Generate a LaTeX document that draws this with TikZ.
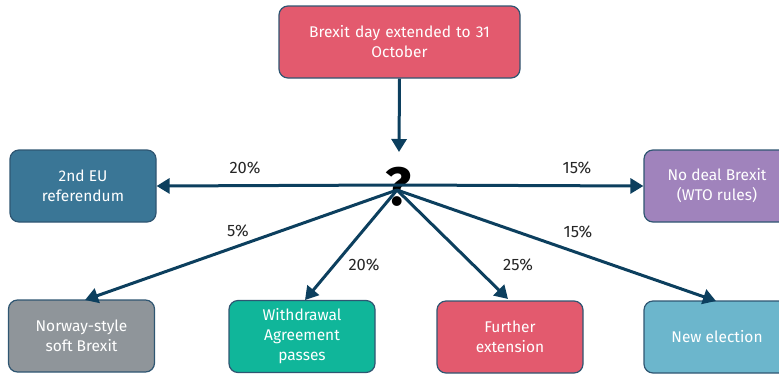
\documentclass[tikz,border=0pt]{standalone}
\usepackage{fontspec}
\setmainfont{Fira Sans}
\usetikzlibrary{arrows.meta}
\definecolor{linec}{HTML}{0C3F5E}
\definecolor{edgec}{HTML}{2F5672}
\definecolor{pinkc}{HTML}{E35A6E}
\definecolor{bluec}{HTML}{3A7696}
\definecolor{purplec}{HTML}{A083BC}
\definecolor{grayc}{HTML}{8F959A}
\definecolor{tealc}{HTML}{10B69A}
\definecolor{lbluec}{HTML}{6CB6CC}
\tikzset{
  box/.style={draw=edgec, line width=1.2pt, rounded corners=9pt, minimum width=146pt, minimum height=72pt, text=white, align=center, font=\fontsize{15.5}{20}\selectfont, inner sep=2pt},
  conn/.style={draw=linec, line width=3pt, -{Triangle[length=13pt,width=15pt]}},
  pct/.style={font=\fontsize{16.5}{18}\selectfont, text=black!85}
}
\begin{document}
\begin{tikzpicture}[x=1pt,y=-1pt]
\useasboundingbox (0,0) rectangle (779,376);
\node[box, fill=pinkc, minimum width=241pt, text width=230pt] (top) at (399.5,42) {Brexit day extended to 31\\October};
\node[box, fill=bluec] (ref) at (83,186) {2nd EU\\referendum};
\node[box, fill=purplec] (nodeal) at (717,186) {No deal Brexit\\(WTO rules)};
\node[box, fill=grayc] (norway) at (81.5,336) {Norway-style\\soft Brexit};
\node[box, fill=tealc] (wa) at (302,336.5) {Withdrawal\\Agreement\\passes};
\node[box, fill=pinkc] (ext) at (510,337) {Further\\extension};
\node[box, fill=lbluec] (elec) at (717,337) {New election};
\node[font=\fontsize{54}{54}\selectfont\fontseries{sb}\selectfont, text=black, inner sep=0pt] (q) at (398,187) {?};
\coordinate (qc) at (397,185);
\coordinate (ql) at (397,190);
\draw[conn] (top.south) -- (399,152);
\draw[conn] (qc) -- (ref.east);
\draw[conn] (qc) -- (nodeal.west);
\draw[conn] (ql) -- (85,300);
\draw[conn] (ql) -- (305,300);
\draw[conn] (ql) -- (508,299);
\draw[conn] (ql) -- (716,301);
\node[pct] (p1) at (245,168) {20\%};
\node[pct] (p2) at (577,168) {15\%};
\node[pct] (p3) at (238,231) {5\%};
\node[pct] (p4) at (364,265) {20\%};
\node[pct] (p5) at (518,265) {25\%};
\node[pct] (p6) at (578,232) {15\%};
\end{tikzpicture}
\end{document}
